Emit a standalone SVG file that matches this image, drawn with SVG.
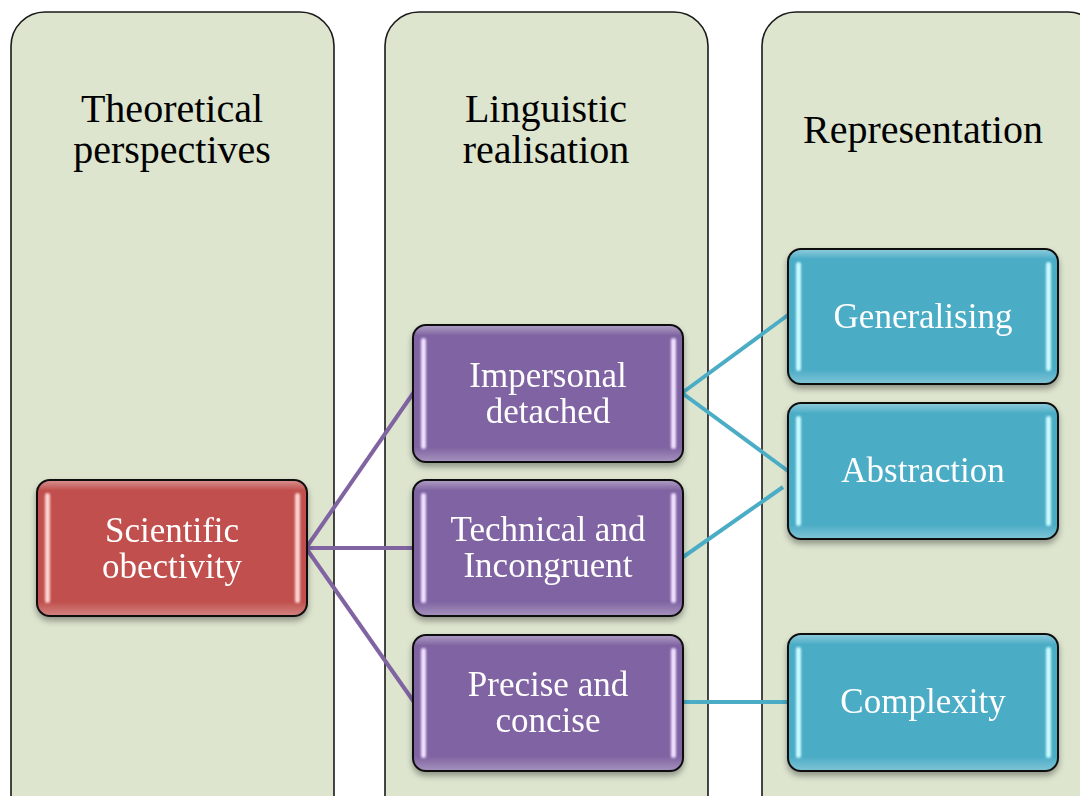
<svg xmlns="http://www.w3.org/2000/svg" width="1080" height="796" viewBox="0 0 1080 796">
  <defs>
    <style>
      .col { fill: #DDE5CF; stroke: #1a1a1a; stroke-width: 1.6; }
      .head { font-family: "Liberation Serif", "Times New Roman", serif; font-size: 40px; fill: #000; text-anchor: middle; }
      .lbl { font-family: "Liberation Serif", "Times New Roman", serif; font-size: 35px; fill: #fff; text-anchor: middle; }
      .box { stroke: #111; stroke-width: 2; }
      .red { fill: #C0504D; }
      .purple { fill: #8064A2; }
      .teal { fill: #4BACC6; }
      .gloss { fill: url(#edgeGloss); }
      .barRed { fill: #FBD2D0; }
      .barPurple { fill: #EEDFFF; }
      .barTeal { fill: #C8FAFF; }
      .linkP { stroke: #8064A2; stroke-width: 4; fill: none; }
      .linkT { stroke: #4BACC6; stroke-width: 4; fill: none; }
    </style>
    <linearGradient id="edgeGloss" x1="0" y1="0" x2="0" y2="1">
      <stop offset="0" stop-color="#fff" stop-opacity="0.35"/>
      <stop offset="0.07" stop-color="#fff" stop-opacity="0"/>
      <stop offset="0.9" stop-color="#fff" stop-opacity="0"/>
      <stop offset="1" stop-color="#fff" stop-opacity="0.28"/>
    </linearGradient>
    <filter id="shadow" x="-10%" y="-10%" width="120%" height="130%">
      <feGaussianBlur in="SourceAlpha" stdDeviation="3"/>
      <feOffset dx="0" dy="4" result="b"/>
      <feComponentTransfer><feFuncA type="linear" slope="0.35"/></feComponentTransfer>
      <feMerge><feMergeNode/><feMergeNode in="SourceGraphic"/></feMerge>
    </filter>
    <filter id="glow" x="-200%" y="-10%" width="500%" height="120%">
      <feGaussianBlur stdDeviation="1.2"/>
    </filter>
  </defs>

  <rect width="1080" height="796" fill="#fff"/>

  <!-- column panels -->
  <g id="col-theory">
    <rect class="col" x="11" y="12" width="323" height="820" rx="34"/>
    <text class="head" x="172" y="122">Theoretical</text>
    <text class="head" x="172" y="163">perspectives</text>
  </g>
  <g id="col-linguistic">
    <rect class="col" x="385" y="12" width="323" height="820" rx="34"/>
    <text class="head" x="546" y="122">Linguistic</text>
    <text class="head" x="546" y="163">realisation</text>
  </g>
  <g id="col-representation">
    <rect class="col" x="762" y="12" width="340" height="820" rx="34"/>
    <text class="head" x="923" y="143">Representation</text>
  </g>

  <!-- connectors -->
  <g id="connectors">
    <line class="linkP" x1="306" y1="548" x2="414" y2="392"/>
    <line class="linkP" x1="306" y1="548" x2="414" y2="548"/>
    <line class="linkP" x1="306" y1="548" x2="414" y2="702"/>
    <line class="linkT" x1="682" y1="393" x2="788" y2="315"/>
    <line class="linkT" x1="682" y1="393" x2="788" y2="471"/>
    <line class="linkT" x1="676" y1="562" x2="783" y2="487"/>
    <line class="linkT" x1="682" y1="702" x2="788" y2="702"/>
  </g>

  <!-- nodes -->
  <g id="node-scientific" filter="url(#shadow)">
    <rect class="box red" x="37" y="480" width="270" height="136" rx="13"/>
    <rect class="gloss" x="38" y="481" width="268" height="134" rx="12"/>
    <rect class="barRed" x="45" y="493" width="5" height="110" rx="2.5" filter="url(#glow)"/>
    <rect class="barRed" x="295" y="493" width="5" height="110" rx="2.5" filter="url(#glow)"/>
    <text class="lbl" x="172" y="542">Scientific</text>
    <text class="lbl" x="172" y="578">obectivity</text>
  </g>

  <g id="node-impersonal" filter="url(#shadow)">
    <rect class="box purple" x="413" y="325" width="270" height="137" rx="13"/>
    <rect class="gloss" x="414" y="326" width="268" height="135" rx="12"/>
    <rect class="barPurple" x="421" y="338" width="5" height="111" rx="2.5" filter="url(#glow)"/>
    <rect class="barPurple" x="671" y="338" width="5" height="111" rx="2.5" filter="url(#glow)"/>
    <text class="lbl" x="548" y="387">Impersonal</text>
    <text class="lbl" x="548" y="423">detached</text>
  </g>

  <g id="node-technical" filter="url(#shadow)">
    <rect class="box purple" x="413" y="480" width="270" height="136" rx="13"/>
    <rect class="gloss" x="414" y="481" width="268" height="134" rx="12"/>
    <rect class="barPurple" x="421" y="493" width="5" height="110" rx="2.5" filter="url(#glow)"/>
    <rect class="barPurple" x="671" y="493" width="5" height="110" rx="2.5" filter="url(#glow)"/>
    <text class="lbl" x="548" y="541">Technical and</text>
    <text class="lbl" x="548" y="577">Incongruent</text>
  </g>

  <g id="node-precise" filter="url(#shadow)">
    <rect class="box purple" x="413" y="635" width="270" height="136" rx="13"/>
    <rect class="gloss" x="414" y="636" width="268" height="134" rx="12"/>
    <rect class="barPurple" x="421" y="648" width="5" height="110" rx="2.5" filter="url(#glow)"/>
    <rect class="barPurple" x="671" y="648" width="5" height="110" rx="2.5" filter="url(#glow)"/>
    <text class="lbl" x="548" y="696">Precise and</text>
    <text class="lbl" x="548" y="732">concise</text>
  </g>

  <g id="node-generalising" filter="url(#shadow)">
    <rect class="box teal" x="788" y="249" width="270" height="135" rx="13"/>
    <rect class="gloss" x="789" y="250" width="268" height="133" rx="12"/>
    <rect class="barTeal" x="796" y="262" width="5" height="109" rx="2.5" filter="url(#glow)"/>
    <rect class="barTeal" x="1046" y="262" width="5" height="109" rx="2.5" filter="url(#glow)"/>
    <text class="lbl" x="923" y="328">Generalising</text>
  </g>

  <g id="node-abstraction" filter="url(#shadow)">
    <rect class="box teal" x="788" y="403" width="270" height="136" rx="13"/>
    <rect class="gloss" x="789" y="404" width="268" height="134" rx="12"/>
    <rect class="barTeal" x="796" y="416" width="5" height="110" rx="2.5" filter="url(#glow)"/>
    <rect class="barTeal" x="1046" y="416" width="5" height="110" rx="2.5" filter="url(#glow)"/>
    <text class="lbl" x="923" y="482">Abstraction</text>
  </g>

  <g id="node-complexity" filter="url(#shadow)">
    <rect class="box teal" x="788" y="634" width="270" height="137" rx="13"/>
    <rect class="gloss" x="789" y="635" width="268" height="135" rx="12"/>
    <rect class="barTeal" x="796" y="647" width="5" height="111" rx="2.5" filter="url(#glow)"/>
    <rect class="barTeal" x="1046" y="647" width="5" height="111" rx="2.5" filter="url(#glow)"/>
    <text class="lbl" x="923" y="713">Complexity</text>
  </g>
</svg>
